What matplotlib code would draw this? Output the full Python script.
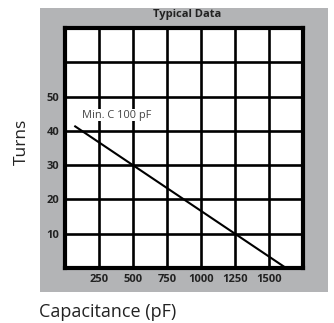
import matplotlib.pyplot as plt
from matplotlib.patches import Rectangle

# capacitance vs. turns, read as a straight line
capacitance = [75, 1625]
turns = [41.3, 0]

x_ticks = [250, 500, 750, 1000, 1250, 1500]
y_ticks = [10, 20, 30, 40, 50]
x_grid = [250, 500, 750, 1000, 1250, 1500]
y_grid = [10, 20, 30, 40, 50, 60]

plt.rcParams['font.family'] = ['Open Sans', 'DejaVu Sans']

fig = plt.figure(figsize=(3.34, 3.23), dpi=100)
W, H = 334, 323

# grey panel behind the chart
fig.patches.append(Rectangle((40 / W, 1 - 292 / H), 288 / W, 284 / H,
                             transform=fig.transFigure, facecolor='#b3b4b6',
                             edgecolor='none', zorder=-1))

ax = fig.add_axes([65 / W, 1 - 268 / H, 238 / W, 240 / H])
ax.set_zorder(1)
ax.set_facecolor('white')
ax.set_xlim(0, 1750)
ax.set_ylim(0, 70)

for x in x_grid:
    ax.axvline(x, color='black', linewidth=1.9, zorder=1)
for y in y_grid:
    ax.axhline(y, color='black', linewidth=1.9, zorder=1)

ax.plot(capacitance, turns, color='black', linewidth=1.5, zorder=3)

ax.text(122, 44.6, 'Min. C 100 pF', fontsize=7.9, color='#444444',
        va='center', ha='left', zorder=2,
        bbox=dict(facecolor='white', edgecolor='none', pad=0.6))

for s in ax.spines.values():
    s.set_linewidth(3)
    s.set_color('black')

ax.set_xticks(x_ticks)
ax.set_yticks(y_ticks)
ax.set_xticklabels([str(v) for v in x_ticks], fontweight='bold', fontsize=8, color='#222222')
ax.set_yticklabels([str(v) for v in y_ticks], fontweight='bold', fontsize=8, color='#222222')
ax.tick_params(length=0, pad=4)

fig.text(187 / W, 1 - 15 / H, 'Typical Data', fontsize=8, fontweight='bold',
         ha='center', va='center', color='#222222')
fig.text(22 / W, 1 - 142 / H, 'Turns', fontsize=12.5, rotation=90,
         ha='center', va='center', color='#222222')
fig.text(39 / W, 1 - 312 / H, 'Capacitance (pF)', fontsize=13,
         ha='left', va='center', color='#222222')

fig.savefig('out.png', dpi=100, facecolor='white')
